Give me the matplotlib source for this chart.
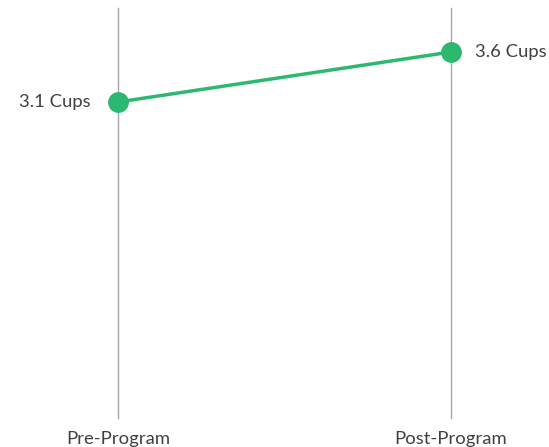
import matplotlib
matplotlib.use('Agg')
import matplotlib.pyplot as plt

plt.rcParams['font.family'] = ['Lato', 'DejaVu Sans']

stages = ['Pre-Program', 'Post-Program']
cups = [3.1, 3.6]
value_labels = ['3.1 Cups', '3.6 Cups']

green = '#2db86f'
text_color = '#404040'

W, H = 549, 447
fig = plt.figure(figsize=(W / 100, H / 100), dpi=100)
# axes spans from the first to the second vertical line
ax = fig.add_axes([118 / W, (H - 418) / H, 333 / W, 410 / H])
ax.set_xlim(0, 1)
ax.set_ylim(-0.06, 4.04)
ax.axis('off')

xs = list(range(len(stages)))
for x in xs:
    ax.plot([x, x], [-0.06, 4.04], color='#a6a6a6', linewidth=1, clip_on=False, zorder=1)

ax.plot(xs, cups, color=green, linewidth=2.5, marker='o', markersize=14,
        clip_on=False, zorder=3)

fs = 13.3
ax.annotate(value_labels[0], (xs[0], cups[0]), xytext=(-27, 0), textcoords='offset pixels',
            ha='right', va='center', fontsize=fs, color=text_color)
ax.annotate(value_labels[1], (xs[1], cups[1]), xytext=(24, 0), textcoords='offset pixels',
            ha='left', va='center', fontsize=fs, color=text_color)

for x, s in zip(xs, stages):
    ax.annotate(s, (x, -0.06), xytext=(0, -26), textcoords='offset pixels',
                ha='center', va='baseline', fontsize=fs, color=text_color,
                annotation_clip=False)

fig.savefig('out.png', dpi=100)
